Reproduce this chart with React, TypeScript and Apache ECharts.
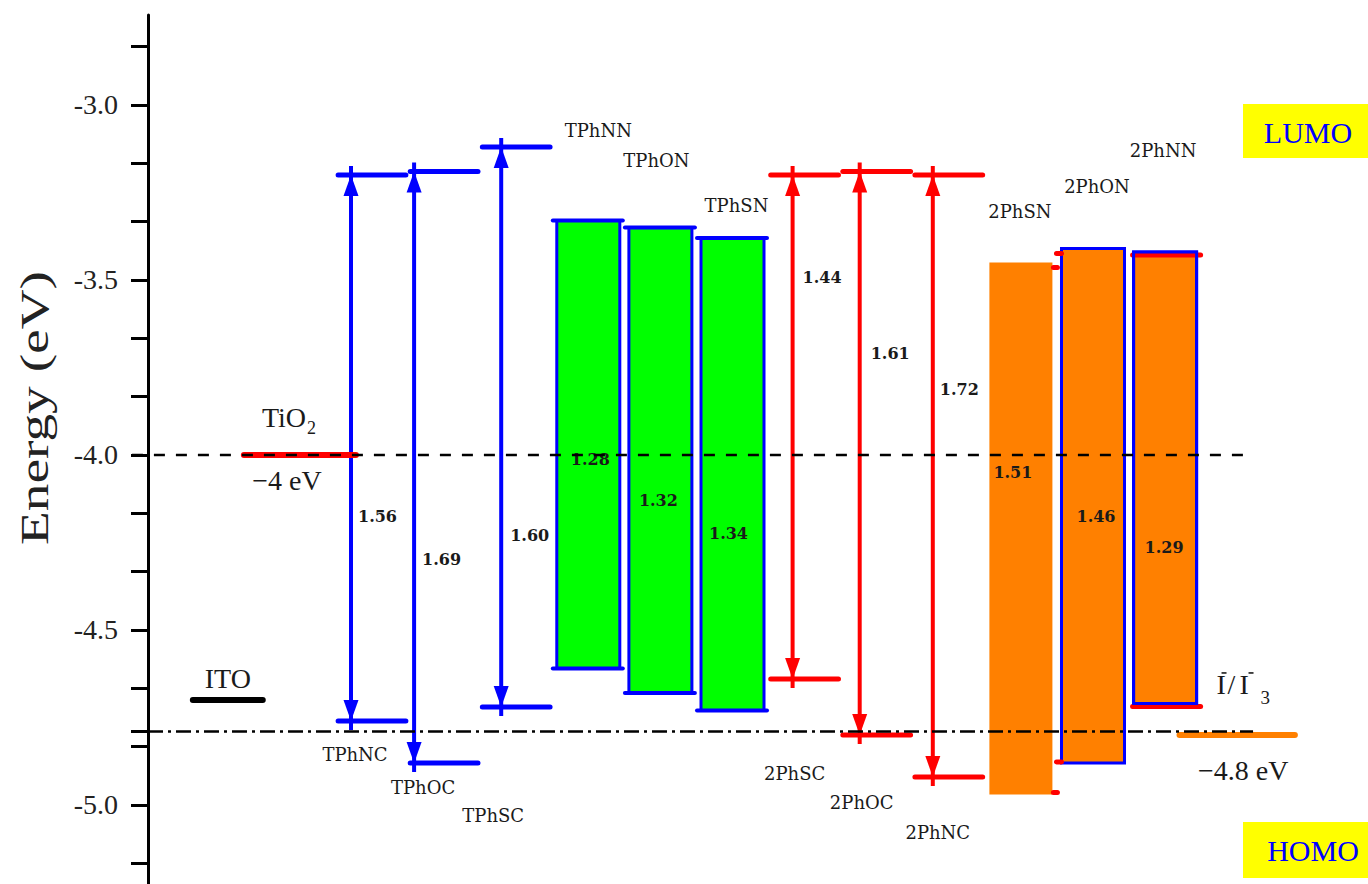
import React, { useEffect, useRef } from 'react';
import * as echarts from 'echarts';

// ---------------- data (energies in eV) ----------------
const tphArrowNames = ['TPhNC', 'TPhOC', 'TPhSC'];
const tphArrowLumo = [-3.2, -3.19, -3.12];
const tphArrowHomo = [-4.76, -4.88, -4.72];
const tphArrowGap = ['1.56', '1.69', '1.60'];

const tphBoxNames = ['TPhNN', 'TPhON', 'TPhSN'];
const tphBoxLumo = [-3.33, -3.35, -3.38];
const tphBoxHomo = [-4.61, -4.68, -4.73];
const tphBoxGap = ['1.28', '1.32', '1.34'];

const phArrowNames = ['2PhSC', '2PhOC', '2PhNC'];
const phArrowLumo = [-3.2, -3.19, -3.2];
const phArrowHomo = [-4.64, -4.8, -4.92];
const phArrowGap = ['1.44', '1.61', '1.72'];

const phBoxNames = ['2PhSN', '2PhON', '2PhNN'];
const phBoxLumo = [-3.45, -3.41, -3.42];
const phBoxHomo = [-4.97, -4.88, -4.71];
const phBoxGap = ['1.51', '1.46', '1.29'];

const refNames = ['ITO', 'TiO2', 'I-/I3-'];
const refEnergy = [-4.7, -4.0, -4.8];
const refValueLabels = ['', '−4 eV', '−4.8 eV'];

const guideEnergy = [-4.0, -4.79];

const yLabelValues = [-5.0, -4.5, -4.0, -3.5, -3.0];
const yTickValues = [
  -5.1667, -5.0, -4.8333, -4.79, -4.6667, -4.5, -4.3333, -4.1667, -4.0,
  -3.8333, -3.6667, -3.5, -3.3333, -3.1667, -3.0, -2.8333,
];

// ---------------- layout ----------------
const W = 1368;
const H = 884;
const AXIS_PX = 148;
const COL0_PX = 372;
const COL_PX = 72.1;
const X_MIN = (AXIS_PX - COL0_PX) / COL_PX;
const X_MAX = (W - COL0_PX) / COL_PX;
const Y_MAX = -2.743;
const Y_MIN = -5.225;
const PX_PER_EV = 350;
const GRID_TOP = 15;

const BLUE = '#0000ff';
const RED = '#ff0000';
const GREEN = '#00ff00';
const ORANGE = '#ff8000';
const INK = '#1a1a1a';

const tphArrowStemDx = [-21, -30, -15];
const tphArrowGapDx = [7, 8, 9];
const tphArrowGapY = [-4.177, -4.3, -4.229];
const tphArrowNameDx = [-17, -21, -23];
const tphArrowNameY = [-4.857, -4.949, -5.029];

const phArrowStemDx = [-12, -17, -16];
const phArrowGapDx = [10, 11, 7];
const phArrowGapY = [-3.494, -3.709, -3.814];
const phArrowNameDx = [-10, -15, -11];
const phArrowNameY = [-4.909, -4.994, -5.08];

const tphBoxGapDx = [2, -2, -4];
const tphBoxGapY = [-4.014, -4.129, -4.223];
const tphBoxNameDx = [10, -4, 4];
const tphBoxNameY = [-3.074, -3.16, -3.286];

const phBoxGapDx = [-8, 3, -1];
const phBoxGapY = [-4.051, -4.177, -4.263];
const phBoxNameDx = [-1, 4, -2];
const phBoxNameY = [-3.303, -3.234, -3.129];

const refCols = [-2, -1, 12];
const refHalf = [0.485, 0.777, 0.8];
const refColors = ['#000000', RED, ORANGE];

const guideFrom = [-3.33, X_MIN];
const guideTo = [12.18, 12.22];

const txt = (text: string, x: number, y: number, o: any = {}) => ({
  type: 'text',
  x,
  y,
  z2: 20,
  style: {
    text,
    fill: INK,
    fontFamily: 'DejaVu Serif',
    fontSize: 18,
    align: 'center',
    verticalAlign: 'middle',
    ...o,
  },
});

const gapStyle = { fontSize: 16, fontWeight: 'bold' };

function arrowSeries(
  names: string[], lumo: number[], homo: number[], gaps: string[], firstCol: number, color: string,
  stemDx: number[], gapDx: number[], gapY: number[], nameDx: number[], nameY: number[]
) {
  return {
    type: 'custom',
    coordinateSystem: 'cartesian2d',
    clip: false,
    z: 4,
    data: names.map((_, i) => [firstCol + i, lumo[i], homo[i]]),
    encode: { x: 0, y: [1, 2] },
    renderItem: (params: any, api: any) => {
      const i = params.dataIndex;
      const col = api.value(0);
      const pL = api.coord([col, api.value(1)]);
      const pH = api.coord([col, api.value(2)]);
      const half = api.size([0.47, 0])[0];
      const cx = pL[0];
      const sx = cx + stemDx[i];
      const yL = pL[1];
      const yH = pH[1];
      const lvl = { stroke: color, lineWidth: 5, lineCap: 'round' };
      return {
        type: 'group',
        children: [
          { type: 'line', shape: { x1: cx - half, y1: yL, x2: cx + half, y2: yL }, style: lvl },
          { type: 'line', shape: { x1: cx - half, y1: yH, x2: cx + half, y2: yH }, style: lvl },
          { type: 'line', shape: { x1: sx, y1: yL - 9, x2: sx, y2: yH + 9 }, style: { stroke: color, lineWidth: 4 } },
          { type: 'polygon', shape: { points: [[sx, yL], [sx - 7.5, yL + 21], [sx + 7.5, yL + 21]] }, style: { fill: color } },
          { type: 'polygon', shape: { points: [[sx, yH], [sx - 7.5, yH - 21], [sx + 7.5, yH - 21]] }, style: { fill: color } },
          txt(gaps[i], sx + gapDx[i], api.coord([col, gapY[i]])[1], { ...gapStyle, align: 'left' }),
          txt(names[i], cx + nameDx[i], api.coord([col, nameY[i]])[1]),
        ],
      };
    },
  };
}

function boxSeries(
  names: string[], lumo: number[], homo: number[], gaps: string[], firstCol: number, kind: 'green' | 'orange',
  gapDx: number[], gapY: number[], nameDx: number[], nameY: number[]
) {
  return {
    type: 'custom',
    coordinateSystem: 'cartesian2d',
    clip: false,
    z: 3,
    data: names.map((_, i) => [firstCol + i, lumo[i], homo[i]]),
    encode: { x: 0, y: [1, 2] },
    renderItem: (params: any, api: any) => {
      const i = params.dataIndex;
      const col = api.value(0);
      const pL = api.coord([col, api.value(1)]);
      const pH = api.coord([col, api.value(2)]);
      const half = api.size([0.437, 0])[0];
      const cx = pL[0];
      const yL = pL[1];
      const yH = pH[1];
      const left = cx - half;
      const right = cx + half;
      const children: any[] = [];
      if (kind === 'green') {
        children.push({
          type: 'rect', shape: { x: left, y: yL, width: right - left, height: yH - yL },
          style: { fill: GREEN, stroke: BLUE, lineWidth: 3 },
        });
        const st = { stroke: BLUE, lineWidth: 4, lineCap: 'round' };
        children.push({ type: 'line', shape: { x1: left - 4, y1: yL, x2: right + 3, y2: yL }, style: st });
        children.push({ type: 'line', shape: { x1: left - 4, y1: yH, x2: right + 3, y2: yH }, style: st });
      } else {
        const bordered = i > 0;
        children.push({
          type: 'rect', shape: { x: left, y: yL, width: right - left, height: yH - yL },
          style: { fill: ORANGE, stroke: bordered ? BLUE : null, lineWidth: bordered ? 3 : 0 },
        });
        const st = { stroke: RED, lineWidth: 5, lineCap: 'round' };
        if (i === 0) {
          children.push({ type: 'line', shape: { x1: right + 1, y1: yL + 5, x2: right + 5, y2: yL + 5 }, style: st });
          children.push({ type: 'line', shape: { x1: right + 1, y1: yH - 2, x2: right + 5, y2: yH - 2 }, style: st });
        } else if (i === 1) {
          children.push({ type: 'line', shape: { x1: left - 5, y1: yL + 5, x2: left, y2: yL + 5 }, style: st });
          children.push({ type: 'line', shape: { x1: left - 5, y1: yH - 1, x2: left, y2: yH - 1 }, style: st });
        } else {
          children.push({ type: 'line', shape: { x1: left - 1, y1: yL + 3, x2: right + 4, y2: yL + 3 }, style: st });
          children.push({ type: 'line', shape: { x1: left - 1, y1: yH + 3, x2: right + 4, y2: yH + 3 }, style: st });
          children.push({
            type: 'rect', shape: { x: left, y: yL, width: right - left, height: yH - yL },
            style: { fill: 'none', stroke: BLUE, lineWidth: 3 },
          });
        }
      }
      children.push(txt(gaps[i], cx + gapDx[i], api.coord([col, gapY[i]])[1], gapStyle));
      children.push(txt(names[i], cx + nameDx[i], api.coord([col, nameY[i]])[1]));
      return { type: 'group', children };
    },
  };
}

const serif = 'Liberation Serif';

const refSeries = {
  type: 'custom',
  coordinateSystem: 'cartesian2d',
  clip: false,
  z: 4,
  data: refNames.map((_, i) => [refCols[i], refEnergy[i]]),
  encode: { x: 0, y: 1 },
  renderItem: (params: any, api: any) => {
    const i = params.dataIndex;
    const p = api.coord([api.value(0), api.value(1)]);
    const hw = api.size([refHalf[i], 0])[0];
    const L = p[0] - hw;
    const y = p[1];
    const big = { fontFamily: serif, fontSize: 28, fill: INK };
    const children: any[] = [
      { type: 'line', shape: { x1: L, y1: y, x2: p[0] + hw, y2: y }, style: { stroke: refColors[i], lineWidth: 6, lineCap: 'round' } },
    ];
    if (i === 0) {
      children.push(txt(refNames[0], p[0], y - 21, big));
    } else if (i === 1) {
      children.push(txt('TiO', L + 18, y - 37, { ...big, align: 'left' }));
      children.push(txt('2', L + 63, y - 27, { ...big, fontSize: 18, align: 'left' }));
      children.push(txt(refValueLabels[1], p[0] - 13, y + 26, big));
    } else {
      children.push(txt('I', L + 37, y - 50, { ...big, align: 'left' }));
      children.push(txt('/', L + 48, y - 50, { ...big, align: 'left' }));
      children.push(txt('I', L + 60, y - 50, { ...big, align: 'left' }));
      children.push({ type: 'line', shape: { x1: L + 42, y1: y - 62, x2: L + 47, y2: y - 62 }, style: { stroke: INK, lineWidth: 1.6 } });
      children.push({ type: 'line', shape: { x1: L + 69, y1: y - 62, x2: L + 74, y2: y - 62 }, style: { stroke: INK, lineWidth: 1.6 } });
      children.push(txt('3', L + 81, y - 37, { ...big, fontSize: 19, align: 'left' }));
      children.push(txt(refValueLabels[2], p[0] + 6, y + 36, big));
    }
    return { type: 'group', children };
  },
};

const guideSeries = {
  type: 'custom',
  coordinateSystem: 'cartesian2d',
  clip: false,
  z: 6,
  data: guideEnergy.map((e, i) => [i, e]),
  encode: { y: 1 },
  renderItem: (params: any, api: any) => {
    const i = params.dataIndex;
    const e = api.value(1);
    const a = api.coord([guideFrom[i], e]);
    const b = api.coord([guideTo[i], e]);
    return {
      type: 'line',
      shape: { x1: a[0], y1: a[1], x2: b[0], y2: b[1] },
      style: {
        stroke: '#000',
        lineWidth: 2.5,
        lineDash: i === 0 ? [11, 11] : [15, 5, 3, 5],
      },
    };
  },
};

const option: any = {
  animation: false,
  backgroundColor: '#ffffff',
  grid: { left: AXIS_PX, right: 0, top: GRID_TOP, height: (Y_MAX - Y_MIN) * PX_PER_EV },
  xAxis: { type: 'value', min: X_MIN, max: X_MAX, show: false },
  yAxis: {
    type: 'value',
    min: Y_MIN,
    max: Y_MAX,
    axisLine: { show: true, onZero: false, lineStyle: { color: '#000', width: 3 } },
    axisTick: { show: true, inside: false, length: 17, customValues: yTickValues, lineStyle: { color: '#000', width: 3 } },
    axisLabel: {
      customValues: yLabelValues,
      formatter: (v: number) => v.toFixed(1),
      fontFamily: serif,
      fontSize: 28,
      color: '#222',
      margin: 30,
    },
    splitLine: { show: false },
  },
  graphic: [
    {
      type: 'text', x: 35, y: 408, rotation: Math.PI / 2, scaleX: 1.42,
      style: { text: 'Energy (eV)', fontFamily: serif, fontSize: 39, fill: '#222', align: 'center', verticalAlign: 'middle' },
    },
    { type: 'rect', shape: { x: 1243, y: 104, width: 125, height: 54 }, style: { fill: '#ffff00' } },
    { type: 'text', x: 1308, y: 132, style: { text: 'LUMO', fontFamily: serif, fontSize: 30, fill: BLUE, align: 'center', verticalAlign: 'middle' } },
    { type: 'rect', shape: { x: 1243, y: 822, width: 125, height: 56 }, style: { fill: '#ffff00' } },
    { type: 'text', x: 1313, y: 850, style: { text: 'HOMO', fontFamily: serif, fontSize: 30, fill: BLUE, align: 'center', verticalAlign: 'middle' } },
  ],
  series: [
    boxSeries(tphBoxNames, tphBoxLumo, tphBoxHomo, tphBoxGap, 3, 'green', tphBoxGapDx, tphBoxGapY, tphBoxNameDx, tphBoxNameY),
    boxSeries(phBoxNames, phBoxLumo, phBoxHomo, phBoxGap, 9, 'orange', phBoxGapDx, phBoxGapY, phBoxNameDx, phBoxNameY),
    arrowSeries(tphArrowNames, tphArrowLumo, tphArrowHomo, tphArrowGap, 0, BLUE, tphArrowStemDx, tphArrowGapDx, tphArrowGapY, tphArrowNameDx, tphArrowNameY),
    arrowSeries(phArrowNames, phArrowLumo, phArrowHomo, phArrowGap, 6, RED, phArrowStemDx, phArrowGapDx, phArrowGapY, phArrowNameDx, phArrowNameY),
    refSeries,
    guideSeries,
  ],
};

export default function App() {
  const ref = useRef<HTMLDivElement>(null);
  useEffect(() => {
    document.body.style.margin = '0';
    const chart = echarts.init(ref.current as HTMLDivElement, null, { renderer: 'svg' });
    chart.setOption(option);
    return () => chart.dispose();
  }, []);
  return <div ref={ref} style={{ width: W, height: H, background: '#fff' }} />;
}
